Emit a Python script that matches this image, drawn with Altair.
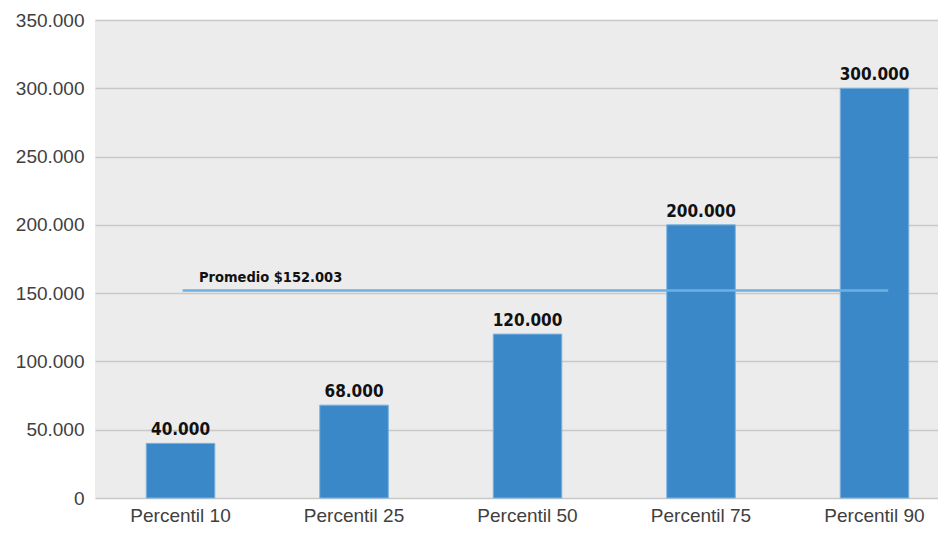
import altair as alt
import pandas as pd

categories = ["Percentil 10", "Percentil 25", "Percentil 50", "Percentil 75", "Percentil 90"]
values = [40000, 68000, 120000, 200000, 300000]
average = 152003
avg_label = "Promedio $152.003"


def fmt(v):
    return f"{v:,}".replace(",", ".")


df = pd.DataFrame({"cat": categories, "val": values, "lbl": [fmt(v) for v in values]})
avg_df = pd.DataFrame({"start": [categories[0]], "end": [categories[-1]], "val": [average], "lbl": [avg_label]})

COND = "DejaVu Sans Condensed, Roboto Condensed, Liberation Sans Narrow, Arial Narrow, Roboto"

xscale = alt.Scale(domain=categories, paddingInner=0.605, paddingOuter=0.232, align=0.637)
yscale = alt.Scale(domain=[0, 350000])

x = alt.X("cat:N", scale=xscale, sort=categories, title=None,
          axis=alt.Axis(labelAngle=0, labelFont="Liberation Sans", labelFontSize=19,
                        labelColor="#404040", labelPadding=8, ticks=False, domain=False, grid=False))
y = alt.Y("val:Q", scale=yscale, title=None,
          axis=alt.Axis(values=[0, 50000, 100000, 150000, 200000, 250000, 300000, 350000],
                        labelExpr="replace(format(datum.value, ','), regexp(',', 'g'), '.')",
                        labelFont="Liberation Sans", labelFontSize=19, labelColor="#404040",
                        labelPadding=11, ticks=False, domain=False,
                        gridColor="#c8c8c8", gridWidth=1.5))

bars = alt.Chart(df).mark_bar(color="#3a88c8", stroke="#7ab3e0", strokeWidth=1).encode(x=x, y=y)

labels = alt.Chart(df).mark_text(font=COND, fontWeight="bold", fontSize=17,
                                 color="#111111", baseline="alphabetic", dy=-8).encode(
    x=alt.X("cat:N", scale=xscale, sort=categories),
    y=alt.Y("val:Q", scale=yscale),
    text="lbl:N",
)

avg_rule = alt.Chart(avg_df).mark_rule(color="#6cb0e4", strokeWidth=2.5).encode(
    x=alt.X("start:N", scale=xscale, bandPosition=0.53),
    x2=alt.X2("end:N", bandPosition=0.7),
    y=alt.Y("val:Q", scale=yscale),
)

avg_text = alt.Chart(avg_df).mark_text(font=COND, fontWeight="bold", fontSize=14.5,
                                       color="#111111", align="left", baseline="alphabetic", dy=-8).encode(
    x=alt.X("start:N", scale=xscale, bandPosition=0.77),
    y=alt.Y("val:Q", scale=yscale),
    text="lbl:N",
)

chart = alt.layer(bars, labels, avg_rule, avg_text).properties(
    width=843, height=478,
    background="white",
    autosize=alt.AutoSizeParams(type="none"),
    padding={"left": 87, "top": 12, "right": 0, "bottom": 28},
).configure_view(fill="#ececec", stroke=None)

chart.save("out.html", embed_options={"renderer": "svg", "actions": False})
